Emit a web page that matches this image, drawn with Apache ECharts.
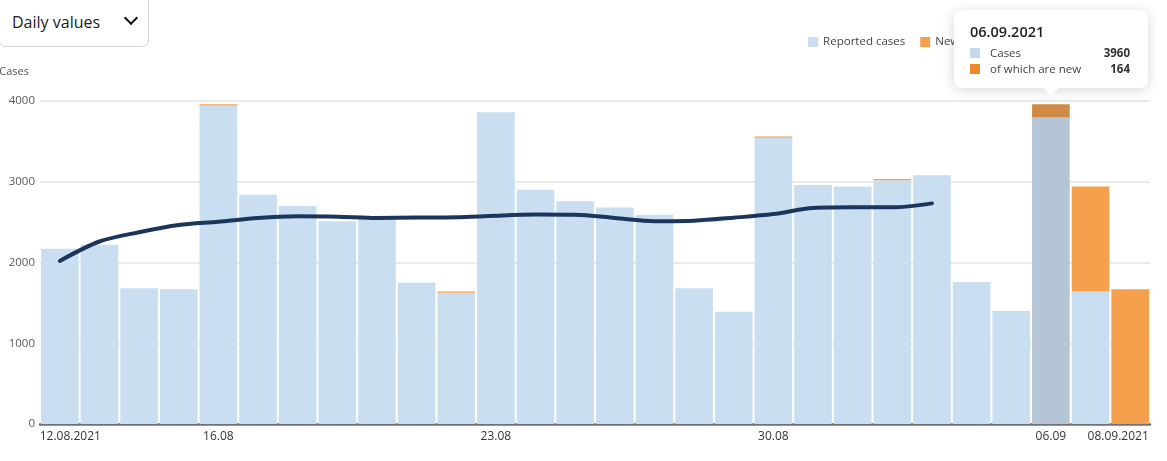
<!DOCTYPE html>
<html>
<head>
<meta charset="UTF-8">
<title>Daily values</title>
<script src="https://cdn.jsdelivr.net/npm/echarts@6/dist/echarts.min.js"></script>
<style>
  body { margin: 0; font-family: 'Open Sans', sans-serif; }
  #wrap { position: relative; width: 1167px; height: 461px; overflow: hidden; }
  #main { width: 1167px; height: 461px; }
  .sel { position: absolute; left: -1px; top: -8px; width: 150px; height: 55px; border: 1px solid #d3d3d3; border-radius: 6px; background: #fff; box-sizing: border-box; z-index: 2; }
  .sel span { position: absolute; left: 12px; top: 18px; font-size: 16px; color: #222; }
  .sel i { position: absolute; left: 126px; top: 20px; width: 8px; height: 8px; border-right: 2.5px solid #111; border-bottom: 2.5px solid #111; transform: rotate(45deg); }
</style>
</head>
<body>
<div id="wrap">
  <div id="main"></div>
  <div class="sel"><span>Daily values</span><i></i></div>
</div>
<script type="text/javascript">
// days shown on the x axis
var days = ['12.08.2021', '13.08.2021', '14.08.2021', '15.08.2021', '16.08.2021', '17.08.2021', '18.08.2021',
  '19.08.2021', '20.08.2021', '21.08.2021', '22.08.2021', '23.08.2021', '24.08.2021', '25.08.2021',
  '26.08.2021', '27.08.2021', '28.08.2021', '29.08.2021', '30.08.2021', '31.08.2021', '01.09.2021',
  '02.09.2021', '03.09.2021', '04.09.2021', '05.09.2021', '06.09.2021', '07.09.2021', '08.09.2021'];
// total cases per day (incl. new ones)
var cases = [2170, 2220, 1680, 1670, 3960, 2840, 2700, 2510, 2560, 1750, 1640, 3860, 2900, 2760,
  2680, 2590, 1680, 1390, 3560, 2960, 2940, 3035, 3080, 1760, 1400, 3960, 2940, 1670];
// of which are new
var newCases = [0, 0, 0, 0, 15, 0, 0, 0, 0, 0, 15, 0, 0, 0,
  0, 0, 0, 0, 15, 0, 0, 15, 0, 0, 0, 164, 1300, 1670];
// 7-day average
var avg7 = [2020, 2260, 2375, 2465, 2505, 2552, 2572, 2568, 2552, 2556, 2560, 2580, 2593, 2590,
  2552, 2512, 2518, 2555, 2600, 2675, 2683, 2683, 2732, null, null, null, null, null];
// labelled ticks
var tickIdx = [0, 4, 11, 18, 25, 27];
var tickText = ['12.08.2021', '16.08', '23.08', '30.08', '06.09', '08.09.2021'];

var reported = cases.map(function(v, i) { return v - newCases[i]; });

var myChart = echarts.init(document.getElementById('main'));
myChart.setOption({
  animation: false,
  textStyle: { fontFamily: 'Open Sans' },
  grid: { left: 40, right: 17, top: 101, bottom: 37, outerBoundsMode: 'none' },
  legend: {
    right: 20, top: 31,
    icon: 'rect', itemWidth: 10, itemHeight: 10, itemGap: 15,
    textStyle: { fontSize: 11.5, color: '#444' },
    data: ['Reported cases', 'Newly added cases', '7-day average']
  },
  tooltip: {
    trigger: 'item',
    position: 'top',
    backgroundColor: '#fff',
    borderColor: '#fff',
    borderWidth: 5,
    padding: [6, 11, 6, 11],
    extraCssText: 'border-radius:8px;box-shadow:0 2px 14px rgba(0,0,0,0.16);width:162px;',
    formatter: function(p) {
      var i = p.dataIndex;
      var row = function(col, name, val) {
        return '<div style="display:flex;align-items:center;font-size:11.5px;color:#444;line-height:16px">' +
          '<span style="display:inline-block;width:10px;height:10px;background:' + col + ';margin-right:10px"></span>' +
          '<span style="flex:1">' + name + '</span><b style="color:#333;margin-right:2px">' + val + '</b></div>';
      };
      return '<div style="font-size:14.5px;font-weight:600;color:#222;margin-bottom:3px">' + days[i] + '</div>' +
        row('#c3d9ef', 'Cases', cases[i]) + row('#ef8a2a', 'of which are new', newCases[i]);
    }
  },
  xAxis: {
    type: 'category',
    data: days,
    axisLine: { lineStyle: { color: '#6d7378', width: 2.5 } },
    axisTick: {
      alignWithLabel: true, length: 5,
      lineStyle: { color: '#555', width: 1.5 },
      interval: function(i) { return tickIdx.indexOf(i) >= 0; }
    },
    axisLabel: {
      interval: function(i) { return tickIdx.indexOf(i) >= 0; },
      margin: 7,
      fontSize: 12, color: '#333',
      formatter: function(v, i) {
        var k = tickIdx.indexOf(i);
        if (k === 0) return '{first|' + tickText[k] + '}';
        if (k === tickIdx.length - 1) return '{last|' + tickText[k] + '}';
        return tickText[k];
      },
      rich: {
        first: { fontSize: 12, color: '#333', padding: [0, 0, 0, 21] },
        last: { fontSize: 12, color: '#333', padding: [0, 24, 0, 0] }
      }
    }
  },
  yAxis: {
    type: 'value',
    min: 0, max: 4000, interval: 1000,
    name: 'Cases',
    nameLocation: 'end',
    nameGap: 24,
    nameTextStyle: { fontSize: 11, color: '#555', align: 'right', padding: [0, 11, 0, 0] },
    axisLine: { show: false },
    axisTick: { show: false },
    axisLabel: { fontSize: 11.5, color: '#595959', margin: 5, formatter: function(v) { return String(v); } },
    splitLine: { lineStyle: { color: '#ebebeb', width: 2 } }
  },
  series: [{
    name: 'Reported cases',
    type: 'bar',
    stack: 'c',
    barCategoryGap: '5%',
    itemStyle: { color: '#cadef2' },
    emphasis: { itemStyle: { color: '#b4c6d6' } },
    data: reported
  }, {
    name: 'Newly added cases',
    type: 'bar',
    stack: 'c',
    itemStyle: { color: '#f4a04c' },
    emphasis: { itemStyle: { color: '#cf8a45' } },
    data: newCases
  }, {
    name: '7-day average',
    type: 'line',
    smooth: 0.3,
    showSymbol: false,
    silent: true,
    z: 5,
    itemStyle: { color: '#1a365c' },
    lineStyle: { color: '#1a365c', width: 4, cap: 'round' },
    emphasis: { disabled: true },
    data: avg7
  }]
});

myChart.dispatchAction({ type: 'highlight', seriesIndex: [0, 1], dataIndex: 25 });
myChart.dispatchAction({ type: 'showTip', seriesIndex: 1, dataIndex: 25 });
</script>
</body>
</html>
